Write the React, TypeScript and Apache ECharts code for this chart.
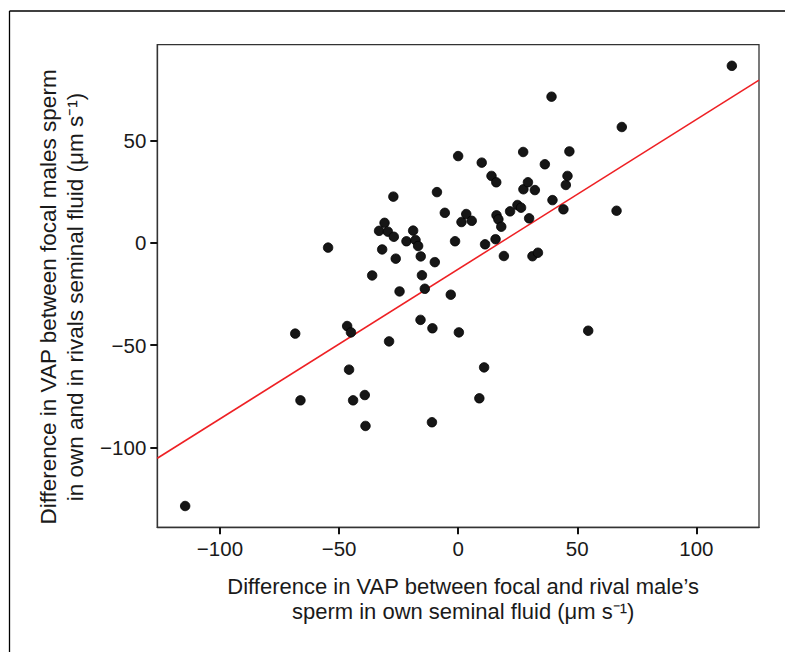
import React, { useEffect, useRef } from "react";
import * as echarts from "echarts";

// Difference in VAP in own seminal fluid (x) and own vs rival's fluid (y)
const pointsX = [
  -114.6, -68.4, -66.2, -54.6, -46.6, -45.0, -45.8, -44.1, -39.2, -38.9,
  -36.1, -33.2, -31.9, -30.9, -29.5, -29.0, -27.2, -27.0, -26.2, -24.6,
  -21.7, -18.9, -17.9, -16.8, -15.7, -15.2, -15.8, -14.0, -10.8, -11.0,
  -9.8, -8.9, -5.6, -3.1, -1.3, 0.0, 0.3, 1.4, 3.4, 5.7,
  8.9, 9.9, 10.9, 11.3, 14.0, 15.7, 16.0, 16.1, 16.9, 18.1,
  19.2, 21.8, 24.9, 26.4, 27.3, 27.4, 29.3, 29.8, 31.2, 32.2,
  33.5, 36.4, 39.2, 39.6, 44.2, 45.2, 45.9, 46.7, 54.6, 66.5,
  68.7, 114.9,
];
const pointsY = [
  -128.6, -44.4, -77.0, -2.4, -40.7, -43.8, -62.0, -77.0, -74.4, -89.5,
  -16.0, 5.8, -3.3, 9.7, 5.4, -48.2, 22.5, 2.9, -7.8, -23.8,
  0.7, 5.9, 1.3, -1.6, -6.7, -15.9, -37.7, -22.5, -41.8, -87.7,
  -9.5, 24.7, 14.6, -25.4, 0.7, 42.3, -43.8, 10.1, 14.0, 10.7,
  -76.0, 39.1, -60.9, -0.8, 32.6, 1.7, 29.5, 13.4, 11.4, 7.8,
  -6.5, 15.3, 18.4, 17.1, 44.3, 26.1, 29.5, 11.9, -6.6, 25.7,
  -4.9, 38.3, 71.3, 20.8, 16.3, 28.2, 32.6, 44.6, -43.0, 15.6,
  56.5, 86.4,
];

// Fitted regression line end points (at the panel edges)
const fitLineX = [-126.3, 126.3];
const fitLineY = [-105.3, 79.4];

const xRange = [-126.3, 126.3];
const yRange = [-139.0, 96.7];
const xTicks = [-100, -50, 0, 50, 100];
const yTicks = [-100, -50, 0, 50];

const xTitle = "Difference in VAP between focal and rival male’s\nsperm in own seminal fluid (μm s⁻¹)";
const yTitle = "Difference in VAP between focal males sperm\nin own and in rivals seminal fluid (μm s⁻¹)";

const FONT = "'Liberation Sans', Arial, Helvetica, sans-serif";
const INK = "#1a1a1a";

const fmt = (v: number) => (v < 0 ? "\u2212" + Math.abs(v) : String(v));

export default function App() {
  const ref = useRef<HTMLDivElement>(null);
  useEffect(() => {
    if (!ref.current) return;
    const chart = echarts.init(ref.current, undefined, { renderer: "svg" });
    const scatterData = pointsX.map((x, i) => [x, pointsY[i]]);
    const lineData = fitLineX.map((x, i) => [x, fitLineY[i]]);
    chart.setOption({
      animation: false,
      backgroundColor: "#ffffff",
      textStyle: { fontFamily: FONT },
      grid: {
        left: 157.3,
        top: 44.7,
        right: 26,
        bottom: 124.7,
        show: true,
        borderColor: "#333333",
        borderWidth: 1.3,
      },
      xAxis: {
        type: "value",
        min: xRange[0],
        max: xRange[1],
        name: xTitle,
        nameLocation: "middle",
        nameGap: 47,
        nameTextStyle: {
          fontFamily: FONT,
          fontSize: 22,
          color: INK,
          lineHeight: 25,
          verticalAlign: "top",
          padding: [0, 0, 0, 10],
        },
        axisLine: { show: true, onZero: false, lineStyle: { color: "#333333", width: 1.3 } },
        axisTick: {
          show: true,
          length: 7,
          lineStyle: { color: "#111111", width: 2 },
          customValues: xTicks,
        },
        axisLabel: {
          fontFamily: FONT,
          fontSize: 20.5,
          color: INK,
          margin: 11,
          formatter: fmt,
          customValues: xTicks,
        },
        splitLine: { show: false },
      },
      yAxis: {
        type: "value",
        min: yRange[0],
        max: yRange[1],
        name: yTitle,
        nameLocation: "middle",
        nameGap: 63,
        nameRotate: 90,
        nameTextStyle: {
          fontFamily: FONT,
          fontSize: 22.5,
          color: INK,
          lineHeight: 27,
          padding: [0, 22, 0, 0],
        },
        axisLine: { show: true, onZero: false, lineStyle: { color: "#333333", width: 1.3 } },
        axisTick: {
          show: true,
          length: 7,
          lineStyle: { color: "#111111", width: 2 },
          customValues: yTicks,
        },
        axisLabel: {
          fontFamily: FONT,
          fontSize: 20.5,
          color: INK,
          margin: 11,
          formatter: fmt,
          customValues: yTicks,
        },
        splitLine: { show: false },
      },
      graphic: [
        {
          type: "line",
          shape: { x1: 9.5, y1: 11, x2: 9.5, y2: 652 },
          style: { stroke: "#000", lineWidth: 1.3 },
        },
        {
          type: "line",
          shape: { x1: 9.5, y1: 11, x2: 785, y2: 11 },
          style: { stroke: "#000", lineWidth: 1.3 },
        },
      ],
      series: [
        {
          type: "line",
          data: lineData,
          showSymbol: false,
          symbol: "none",
          lineStyle: { color: "#ee2024", width: 1.6 },
          z: 2,
        },
        {
          type: "scatter",
          data: scatterData,
          symbol: "circle",
          symbolSize: 9.5,
          itemStyle: {
            color: "#161616",
            borderColor: "#000",
            borderWidth: 0.8,
            opacity: 1,
          },
          z: 3,
        },
      ],
    });
    return () => chart.dispose();
  }, []);
  return (
    <div
      ref={ref}
      style={{ position: "fixed", left: 0, top: 0, width: 785, height: 652, background: "#fff" }}
    />
  );
}
